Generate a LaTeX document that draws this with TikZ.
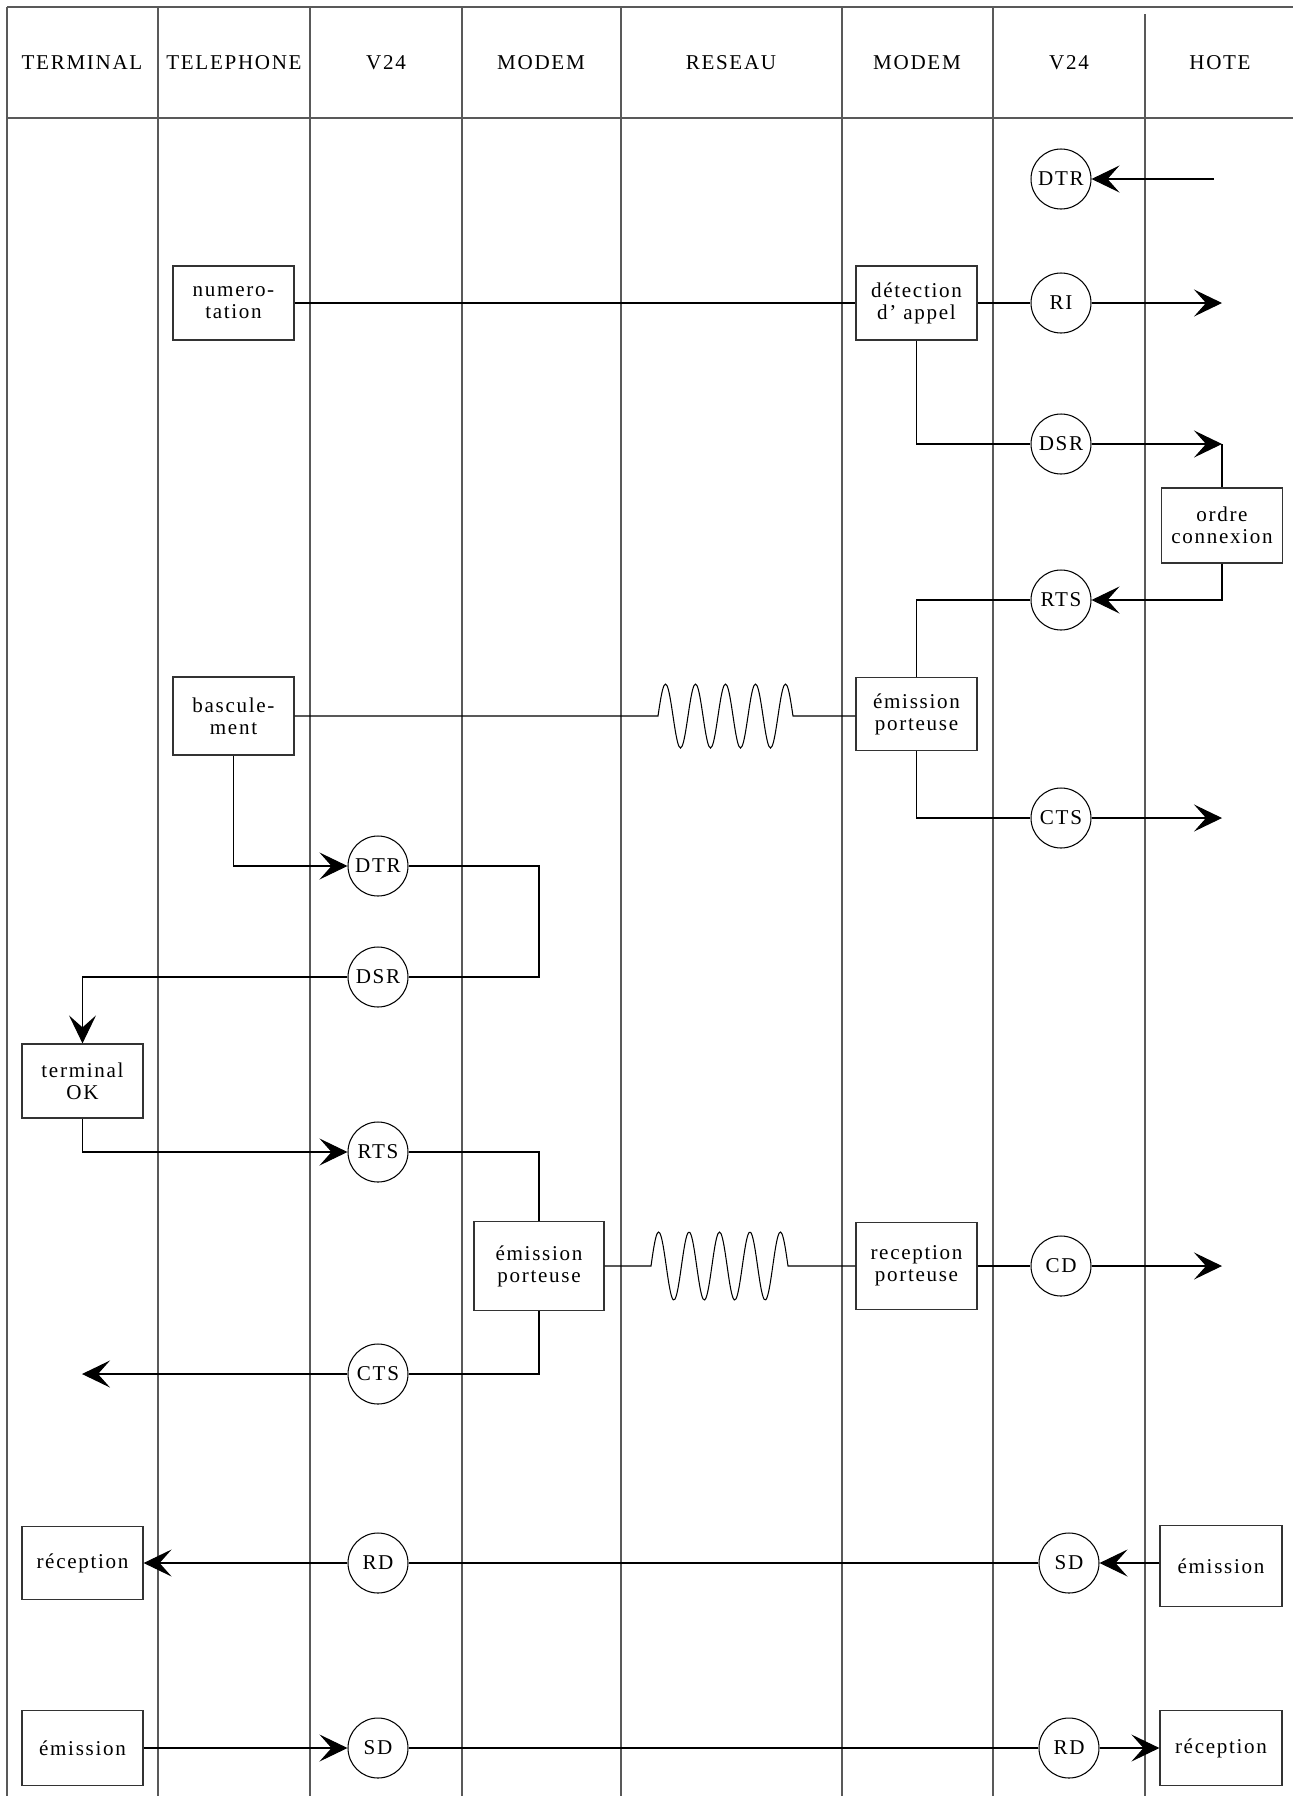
\documentclass[tikz,border=0pt]{standalone}
\usepackage{fontspec}
\setmainfont{Liberation Serif}[LetterSpace=8]
\usetikzlibrary{arrows.meta,calc}
\tikzset{box/.style={draw=black!80,line width=0.7pt,align=center,minimum width=2.42cm,minimum height=1.48cm,inner sep=2pt},
  sig/.style={draw,circle,minimum size=1.2cm,inner sep=0pt,line width=0.6pt},
  col/.style={draw=black!65,line width=0.9pt},
  lnk/.style={line width=0.6pt},
  arr/.style={-{Stealth[length=5.6mm,width=5.4mm,inset=2.4mm]},line width=0.6pt}}

\begin{document}
\begin{tikzpicture}[x=0.02cm,y=-0.02cm,font=\fontsize{12}{12.5}\selectfont]
\useasboundingbox (0,0) rectangle (1293,1796);
\draw[col] (7,7) -- (1293,7);
\draw[col] (7,118) -- (1293,118);
\foreach \cx in {7,158,310,462,621,842,993}
  \draw[col] (\cx,7) -- (\cx,1796);
\draw[col] (1145,14) -- (1145,1796);
\node (hTerm) at (82,63) {TERMINAL};
\node (hTel) at (234,63) {TELEPHONE};
\node (hVa) at (386,63) {V24};
\node (hModa) at (541,63) {MODEM};
\node (hRes) at (731,63) {RESEAU};
\node (hModb) at (917,63) {MODEM};
\node (hVb) at (1069,63) {V24};
\node (hHote) at (1220,63) {HOTE};

\node[box] (numero) at (233.5,303) {numero-\\tation};
\node[box] (detect) at (916.5,303) {détection\\d' appel};
\node[box,minimum height=1.5cm] (ordre) at (1222,525.5) {ordre\\connexion};
\node[box,minimum height=1.56cm] (bascul) at (233.5,716) {bascule-\\ment};
\node[box,minimum height=1.46cm] (emisR) at (916.5,714) {émission\\porteuse};
\node[box] (termok) at (82.5,1081) {terminal\\OK};
\node[box,minimum width=2.6cm,minimum height=1.78cm] (emisL) at (539,1266) {émission\\porteuse};
\node[box,minimum height=1.74cm] (recp) at (916.5,1266) {reception\\porteuse};
\node[box,minimum height=1.46cm] (recT) at (82.5,1563) {réception};
\node[box,minimum width=2.44cm,minimum height=1.62cm] (emiH) at (1221,1566) {émission};
\node[box,minimum height=1.5cm] (emiT) at (82.5,1748) {émission};
\node[box,minimum width=2.44cm,minimum height=1.5cm] (recH) at (1221,1748) {réception};

\node[sig] (dtrH) at (1061,179) {DTR};
\node[sig] (riH) at (1061,303) {RI};
\node[sig] (dsrH) at (1061,444) {DSR};
\node[sig] (rtsH) at (1061,600) {RTS};
\node[sig] (ctsH) at (1061,818) {CTS};
\node[sig] (cdH) at (1061,1266) {CD};
\node[sig] (sdH) at (1069,1563) {SD};
\node[sig] (rdH) at (1069,1748) {RD};
\node[sig] (dtrT) at (378,866) {DTR};
\node[sig] (dsrT) at (378,977) {DSR};
\node[sig] (rtsT) at (378,1152) {RTS};
\node[sig] (ctsT) at (378,1374) {CTS};
\node[sig] (rdT) at (378,1563) {RD};
\node[sig] (sdT) at (378,1748) {SD};

\coordinate (dtrin) at (1214,179);
\coordinate (riout) at (1222,303);
\coordinate (dsrout) at (1222,444);
\coordinate (ctsout) at (1222,818);
\coordinate (cdout) at (1222,1266);
\coordinate (ctsTout) at (82,1374);
\coordinate (loopA) at (539,920);
\coordinate (sprA) at (658,716);
\coordinate (sprB) at (651,1266);

\draw[arr] (dtrin) -- (dtrH);
\draw[lnk] (numero) -- (detect);
\draw[lnk] (detect) -- (riH);
\draw[arr] (riH) -- (riout);
\draw[lnk] (detect.south) |- (dsrH);
\draw[arr] (dsrH) -- (dsrout);
\draw[lnk] (dsrout) -- (ordre.north);
\draw[arr] (ordre.south) |- (rtsH);
\draw[lnk] (rtsH) -| (emisR.north);
\draw[lnk] (bascul.east) -- (sprA) -- plot[smooth,domain=0:135,samples=91] ({658+\x},{716-32*sin(12*\x)}) -- (emisR.west |- sprA);
\draw[lnk] (emisR.south) |- (ctsH);
\draw[arr] (ctsH) -- (ctsout);

\draw[arr] (bascul.south) |- (dtrT);
\draw[lnk] (dtrT) -| (loopA) |- (dsrT);
\draw[arr] (dsrT) -| (termok.north);
\draw[arr] (termok.south) |- (rtsT);
\draw[lnk] (rtsT) -| (emisL.north);
\draw[lnk] (emisL.east) -- (sprB) -- plot[smooth,domain=0:137,samples=93] ({651+\x},{1266-34*sin(11.825*\x)}) -- (recp.west);
\draw[lnk] (recp) -- (cdH);
\draw[arr] (cdH) -- (cdout);
\draw[lnk] (emisL.south) |- (ctsT);
\draw[arr] (ctsT) -- (ctsTout);

\draw[arr] (emiH.west |- sdH) -- (sdH);
\draw[lnk] (sdH) -- (rdT);
\draw[arr] (rdT) -- (recT);
\draw[arr] (emiT) -- (sdT);
\draw[lnk] (sdT) -- (rdH);
\draw[arr] (rdH) -- (recH);
\end{tikzpicture}
\end{document}
